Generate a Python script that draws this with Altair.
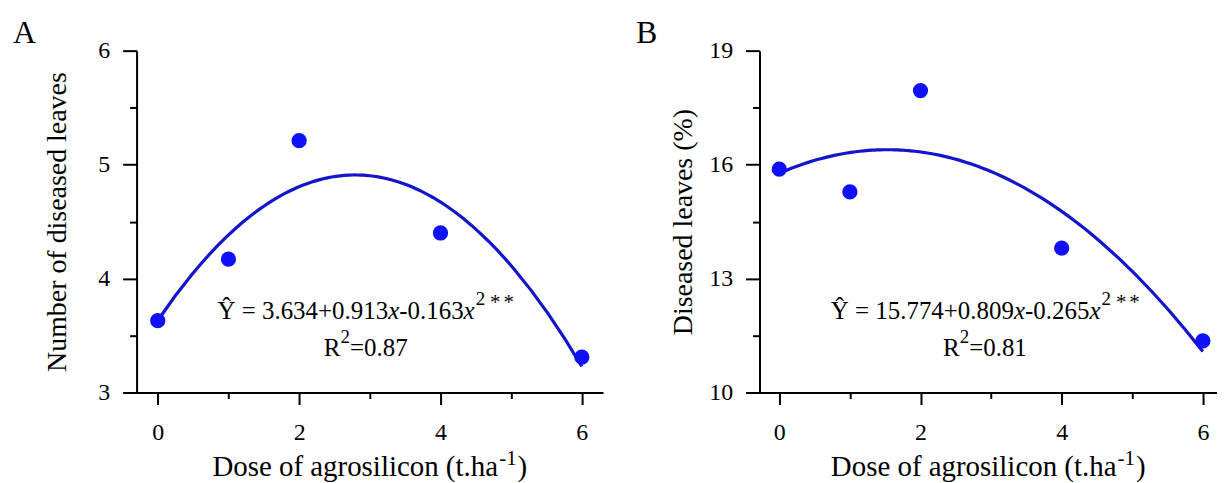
import altair as alt
import pandas as pd

# ---------------- data ----------------
dose = [0, 1, 2, 4, 6]
leaves_num = [3.63, 4.17, 5.21, 4.40, 3.31]      # panel A
leaves_pct = [15.88, 15.28, 17.95, 13.80, 11.36]  # panel B

panel_letters = ["A", "B"]
y_titles = ["Number of diseased leaves", "Diseased leaves (%)"]
x_title_parts = ["Dose of agrosilicon (t.ha", "-1", ")"]

x_ticks = [0, 1, 2, 3, 4, 5, 6]
y_ticks_A = [3, 3.5, 4, 4.5, 5, 5.5, 6]
y_ticks_B = [10, 11.5, 13, 14.5, 16, 17.5, 19]

eq_text_A = ["\u0176 = 3.634+0.913", "x", "-0.163", "x", "2", "*", "*"]
eq_text_B = ["\u0176 = 15.774+0.809", "x", "-0.265", "x", "2", "*", "*"]
r2_text_A = ["R", "2", "=0.87"]
r2_text_B = ["R", "2", "=0.81"]

eq_anchor_A = [0.845, 3.647]
r2_anchor_A = [2.35, 3.324]
eq_anchor_B = [0.73, 11.94]
r2_anchor_B = [2.32, 10.97]

FONT = "Liberation Serif"
PT_COLOR = "#1010ff"
LINE_COLOR = "#1414cc"
PLOT_H = 343

# approximate Times-like glyph widths (em) for laying out text pieces
W = {".": 0.25, "+": 0.564, "=": 0.564, "-": 0.333, " ": 0.25, "(": 0.333, ")": 0.333,
     "\u0176": 0.722, "R": 0.667, "x": 0.444, "*": 0.5, "D": 0.722,
     "s": 0.389, "e": 0.444, "f": 0.333, "a": 0.444, "r": 0.333, "i": 0.278,
     "l": 0.278, "c": 0.444, "t": 0.278}


def text_width(s, size):
    return sum(W.get(c, 0.5) for c in s) * size


# style of each piece: (font size, font style, dy, gap before)
eq_style = [(25, "normal", 0, 0), (25, "italic", 0, 0), (25, "normal", 0, 0),
            (25, "italic", 0, 0), (19, "normal", -14, 1), (21, "normal", -10, 5),
            (21, "normal", -10, 3)]
r2_style = [(25, "normal", 0, 0), (19, "normal", -13, 0), (25, "normal", 0, 0)]
xt_style = [(29, "normal", 0, 0), (21, "normal", -11, 1), (29, "normal", 0, 1)]


def text_layers(pieces, styles, anchor):
    layers = []
    off = 0.0
    for txt, (size, style, dy, gap) in zip(pieces, styles):
        off += gap
        df = pd.DataFrame({"dose": [anchor[0]], "value": [anchor[1]], "t": [txt]})
        layers.append(
            alt.Chart(df).mark_text(
                align="left", baseline="alphabetic", dx=off, dy=dy,
                font=FONT, fontSize=size, fontStyle=style, color="black"
            ).encode(x="dose:Q", y="value:Q", text="t:N")
        )
        off += text_width(txt, size)
    return layers


def xtitle_layers(width):
    total = sum(text_width(t, s[0]) + s[3] for t, s in zip(x_title_parts, xt_style))
    x0 = width / 2 - total / 2
    layers = []
    off = x0
    for txt, (size, style, dy, gap) in zip(x_title_parts, xt_style):
        off += gap
        df = pd.DataFrame({"t": [txt]})
        layers.append(
            alt.Chart(df).mark_text(
                align="left", baseline="alphabetic", dy=dy,
                font=FONT, fontSize=size, color="black"
            ).encode(x=alt.value(off), y=alt.value(PLOT_H + 84), text="t:N")
        )
        off += text_width(txt, size)
    return layers


def panel(values, letter, ytitle, yticks, ydomain, label_test, xdomain, width,
          title_pad, eq_pieces, eq_anchor, r2_pieces, r2_anchor):
    df = pd.DataFrame({"dose": dose, "value": values})
    xenc = alt.X(
        "dose:Q",
        scale=alt.Scale(domain=xdomain, nice=False, zero=False),
        axis=alt.Axis(
            values=x_ticks, title=None, format="d",
            labelExpr="datum.value % 2 === 0 ? datum.label : ''",
            tickSize={"condition": {"test": "datum.value % 2 === 0", "value": 12}, "value": 6},
            labelPadding=16,
        ),
    )
    yenc = alt.Y(
        "value:Q",
        scale=alt.Scale(domain=ydomain, nice=False, zero=False),
        axis=alt.Axis(
            values=yticks, title=ytitle, format="~g",
            labelExpr=f"{label_test} ? datum.label : ''",
            tickSize={"condition": {"test": label_test, "value": 14}, "value": 7},
            labelPadding=13, titlePadding=title_pad,
        ),
    )
    pts = alt.Chart(df).mark_circle(size=235, color=PT_COLOR, opacity=1).encode(x=xenc, y=yenc)
    fit = alt.Chart(df).transform_regression(
        "dose", "value", method="poly", order=2
    ).mark_line(color=LINE_COLOR, strokeWidth=3.2).encode(x="dose:Q", y="value:Q")
    let_df = pd.DataFrame({"t": [letter]})
    let = alt.Chart(let_df).mark_text(
        align="left", baseline="alphabetic", font=FONT, fontSize=32, color="black"
    ).encode(x=alt.value(-124), y=alt.value(-8), text="t:N")
    layers = [fit, pts] + text_layers(eq_pieces, eq_style, eq_anchor) \
        + text_layers(r2_pieces, r2_style, r2_anchor) + xtitle_layers(width) + [let]
    return alt.layer(*layers).properties(width=width, height=PLOT_H)


pA = panel(leaves_num, panel_letters[0], y_titles[0], y_ticks_A, [3, 6],
           "datum.value % 1 === 0", [-0.3, 6.3], 468, 26,
           eq_text_A, eq_anchor_A, r2_text_A, r2_anchor_A)
pB = panel(leaves_pct, panel_letters[1], y_titles[1], y_ticks_B, [10, 19],
           "(datum.value - 10) % 3 === 0", [-0.28, 6.2], 459, 11,
           eq_text_B, eq_anchor_B, r2_text_B, r2_anchor_B)

chart = alt.hconcat(pA, pB, spacing=33).properties(
    padding={"left": 5, "top": 8, "right": 0, "bottom": 0},
    background="white",
).configure_view(stroke=None).configure_axis(
    grid=False, domainColor="black", domainWidth=2, tickColor="black", tickWidth=2,
    labelFont=FONT, labelFontSize=24, labelColor="black", labelFlush=False,
    labelOverlap=False, titleFont=FONT, titleFontSize=28, titleFontWeight="normal",
    titleColor="black"
)

chart.save("out.html", embed_options={"renderer": "svg", "actions": False})
